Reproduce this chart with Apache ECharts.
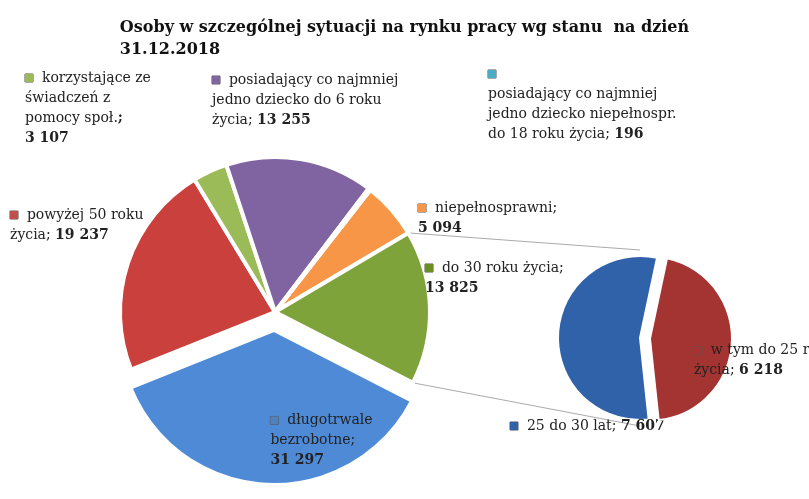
<!DOCTYPE html>
<html><head><meta charset="utf-8">
<script src="https://cdn.jsdelivr.net/npm/echarts@6/dist/echarts.min.js"></script>
<style>html,body{margin:0;padding:0;background:#fff}#c{width:809px;height:499px}</style>
</head><body><div id="c"></div>
<script>
const mainNames = ['niepełnosprawni','do 30 roku życia','długotrwale bezrobotne','powyżej 50 roku życia','korzystające ze świadczeń z pomocy społ.','posiadający co najmniej jedno dziecko do 6 roku życia','posiadający co najmniej jedno dziecko niepełnospr. do 18 roku życia'];
const mainValues = [5094, 13825, 31297, 19237, 3107, 13255, 196];
const mainLabels = [
  ['niepełnosprawni;','{b|5 094}'],
  ['do 30 roku życia;','{b|13 825}'],
  ['długotrwale','bezrobotne;','{b|31 297}'],
  ['powyżej 50 roku','życia; {b|19 237}'],
  ['korzystające ze','świadczeń z','pomocy społ.{b|;}','{b|3 107}'],
  ['posiadający co najmniej','jedno dziecko do 6 roku','życia; {b|13 255}'],
  ['','posiadający co najmniej','jedno dziecko niepełnospr.','do 18 roku życia; {b|196}']
];
const subNames = ['w tym do 25 roku życia','25 do 30 lat'];
const subValues = [6218, 7607];
const subLabels = [['w tym do 25 roku','życia; {b|6 218}'],['25 do 30 lat; {b|7 607}']];

const mainColors = ['#f79646','#7ea33a','#4f8ad6','#c9403c','#9bbb59','#8064a2','#4bacc6'];
const subColors = ['#a33431','#2f62a8'];
const mainSq = ['#f79646','#6b8e23','#4f81bd','#c0504d','#9bbb59','#8064a2','#4bacc6'];

const labelPos = [
  {x:418,y:198},{x:425,y:258},{x:28,y:412},
  {x:10,y:205},{x:25,y:68},{x:212,y:70},{x:488,y:64}
];
const subPos = [{x:594,y:190},{x:510,y:416}];

const font = 'DejaVu Serif';
function mkLabel(lines, color){
  return {show:true, position:'inside', overflow:'none', color:'#222', fontFamily:font, fontSize:14, lineHeight:20,
    align:'left', verticalAlign:'top',
    formatter: '{sq|}  ' + lines.join('\n'),
    rich:{sq:{width:8,height:8,backgroundColor:color,borderColor:'#555',borderWidth:0.5},
          b:{fontWeight:'bold',fontFamily:font,fontSize:14}}};
}
const mainStart = 52, R = 155, C = [275,312];
const mainData = mainNames.map((n,i)=>({name:n,value:mainValues[i],selected:i===2,
  itemStyle:{color:mainColors[i]}, label:mkLabel(mainLabels[i], mainSq[i])}));
const subData = subNames.map((n,i)=>({name:n,value:subValues[i],selected:i===0,
  itemStyle:{color:subColors[i]}, label:mkLabel(subLabels[i], subColors[i])}));

const total = mainValues.reduce((a,b)=>a+b,0);
const a0 = mainStart - mainValues[0]/total*360;
const a1 = a0 - mainValues[1]/total*360;
const rad = d=>d*Math.PI/180;
const p0 = [C[0]+R*Math.cos(rad(a0)), C[1]-R*Math.sin(rad(a0))];
const p1 = [C[0]+R*Math.cos(rad(a1)), C[1]-R*Math.sin(rad(a1))];
const SC=[640,338], SR=82;

const lay = pos => p => Object.assign({align:'left',verticalAlign:'top'}, pos[p.dataIndex]);

const chart = echarts.init(document.getElementById('c'));
chart.setOption({
  title:{text:'Osoby w szczególnej sytuacji na rynku pracy wg stanu  na dzień\n31.12.2018',left:'center',top:12,
    textStyle:{fontFamily:font,fontWeight:'bold',fontSize:16,lineHeight:22,color:'#111'},
    textAlign:'left'},
  graphic:[
    {type:'line',shape:{x1:p0[0],y1:p0[1],x2:SC[0],y2:SC[1]-SR-6},style:{stroke:'#aaa',lineWidth:1}},
    {type:'line',shape:{x1:p1[0],y1:p1[1],x2:SC[0],y2:SC[1]+SR+6},style:{stroke:'#aaa',lineWidth:1}}
  ],
  series:[
    {type:'pie',center:C,radius:R,startAngle:mainStart,clockwise:true,selectedMode:'multiple',selectedOffset:18,
     animation:false,itemStyle:{borderColor:'#fff',borderWidth:4},labelLine:{show:false},
     labelLayout:lay(labelPos), data:mainData},
    {type:'pie',center:SC,radius:SR,startAngle:78,clockwise:true,selectedMode:'multiple',selectedOffset:10,
     animation:false,itemStyle:{borderColor:'#fff',borderWidth:2},labelLine:{show:false},
     labelLayout:lay(subPos), data:subData}
  ]
});
</script></body></html>
